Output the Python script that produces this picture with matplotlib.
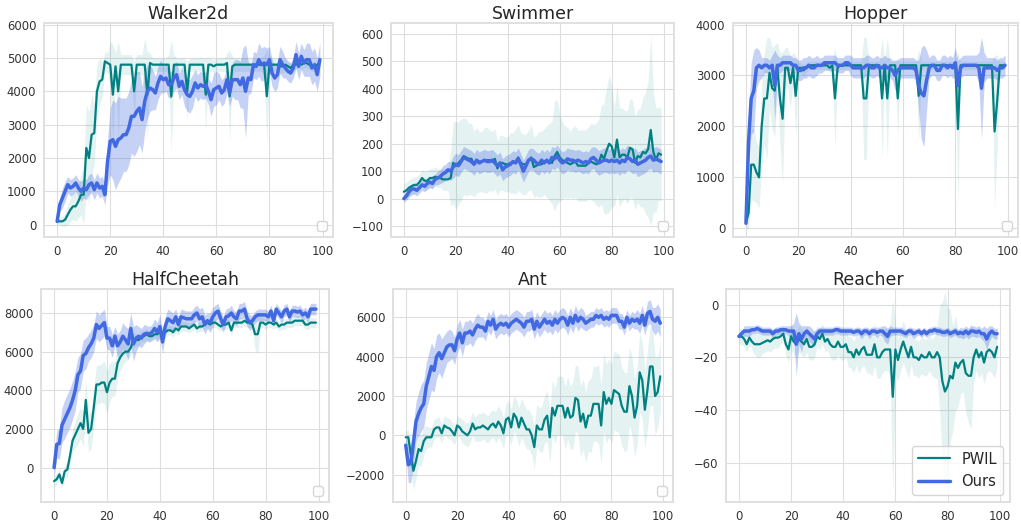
import numpy as np
import matplotlib
matplotlib.use("Agg")
import matplotlib.pyplot as plt
import seaborn as sns

steps = list(range(100))
titles = ["Walker2d", "Swimmer", "Hopper", "HalfCheetah", "Ant", "Reacher"]

# ---- Walker2d ----
walker_pwil = [100, 100, 100, 150, 300, 450, 550, 550, 700, 900,
               900, 2300, 2000, 2700, 2750, 4000, 4300, 4350, 4900, 4850,
               4800, 3900, 4750, 4000, 4800, 4800, 4800, 4800, 4800, 4000,
               4800, 4800, 4800, 4800, 3900, 4850, 4800, 4800, 4800, 4800,
               4800, 4800, 4800, 3850, 4800, 4800, 4800, 4800, 4800, 4000,
               4800, 4800, 4800, 4800, 4800, 4800, 3900, 4800, 4800, 4750,
               4800, 4800, 4800, 4800, 4850, 3850, 4750, 4800, 4800, 4800,
               4800, 4800, 4800, 4800, 4800, 4800, 4800, 4800, 4800, 3850,
               4800, 4800, 4800, 4800, 4750, 4750, 4800, 4750, 4700, 4800,
               4800, 4850, 4800, 4850, 4850, 4800, 4750, 4750, 4800, 4850]
walker_pwil_sd = [100, 100, 150, 200, 300, 350, 400, 450, 500, 600,
                  900, 1300, 1400, 1200, 900, 800, 700, 500, 300, 300,
                  700, 1500, 400, 1500, 300, 300, 300, 300, 300, 900,
                  300, 300, 300, 800, 1300, 300, 200, 200, 200, 200,
                  200, 200, 300, 1700, 300, 200, 200, 200, 200, 900,
                  200, 200, 200, 200, 200, 200, 1100, 200, 200, 200,
                  200, 200, 200, 200, 300, 1400, 300, 200, 200, 200,
                  200, 200, 200, 200, 200, 200, 200, 200, 300, 1400,
                  300, 200, 200, 200, 200, 200, 200, 200, 150, 150,
                  150, 150, 150, 150, 150, 150, 150, 150, 150, 150]
walker_ours = [100, 600, 800, 1000, 1200, 1100, 1150, 1250, 1100, 1000,
               1100, 1050, 1200, 1250, 1050, 1250, 1100, 1150, 900, 1900,
               2500, 2550, 2350, 2550, 2600, 2700, 2700, 2900, 3250, 3250,
               3400, 3500, 3150, 3700, 4000, 4100, 4050, 3950, 4250, 4450,
               4350, 4400, 4200, 4200, 4400, 4500, 4150, 4300, 4050, 3900,
               3850, 4000, 4250, 4100, 4200, 4150, 4200, 4000, 3750, 4050,
               4100, 4150, 3950, 4050, 4350, 3950, 4350, 4350, 4350, 4200,
               4400, 4000, 4400, 4350, 4800, 4750, 4950, 4800, 4850, 4800,
               4950, 4550, 4400, 4500, 4950, 4800, 4700, 4600, 4550, 4700,
               5100, 4750, 5050, 4850, 4950, 4950, 4700, 4800, 4500, 4950]
walker_ours_sd = [100, 200, 300, 300, 250, 250, 250, 250, 250, 300,
                  300, 300, 300, 300, 300, 300, 300, 300, 300, 700,
                  1000, 1200, 1300, 1300, 1200, 1100, 1100, 1100, 1100, 1200,
                  1200, 1100, 1000, 900, 800, 700, 600, 500, 500, 500,
                  400, 400, 400, 400, 400, 400, 400, 400, 500, 500,
                  500, 500, 400, 400, 400, 400, 400, 400, 500, 500,
                  500, 400, 400, 400, 400, 400, 500, 600, 600, 700,
                  900, 1400, 500, 400, 400, 400, 500, 500, 500, 500,
                  400, 400, 400, 400, 400, 400, 300, 300, 300, 300,
                  400, 400, 400, 400, 500, 500, 500, 500, 500, 500]

# ---- Swimmer ----
swimmer_pwil = [25, 30, 40, 45, 50, 50, 60, 75, 65, 65,
                75, 75, 80, 75, 75, 70, 70, 70, 75, 130,
                120, 130, 140, 155, 150, 145, 145, 125, 140, 135,
                135, 140, 140, 140, 135, 145, 110, 130, 130, 125,
                125, 130, 130, 135, 150, 130, 125, 125, 140, 150,
                115, 120, 125, 125, 135, 135, 135, 130, 155, 170,
                150, 140, 135, 130, 125, 130, 135, 120, 120, 120,
                120, 130, 135, 130, 125, 130, 160, 145, 175, 200,
                190, 150, 215, 150, 160, 160, 150, 185, 180, 130,
                155, 150, 170, 165, 180, 250, 170, 140, 165, 160]
swimmer_pwil_sd = [30, 30, 30, 30, 30, 30, 30, 30, 35, 35,
                   35, 35, 35, 35, 35, 40, 40, 40, 100, 150,
                   160, 150, 150, 140, 140, 130, 130, 120, 120, 110,
                   110, 120, 120, 110, 110, 110, 100, 100, 100, 100,
                   100, 110, 110, 120, 120, 110, 110, 110, 110, 120,
                   110, 110, 120, 120, 120, 130, 140, 150, 200, 190,
                   160, 140, 130, 130, 120, 130, 130, 130, 130, 130,
                   130, 130, 140, 140, 150, 160, 180, 200, 230, 250,
                   220, 180, 200, 180, 170, 160, 170, 180, 180, 170,
                   170, 180, 200, 220, 250, 350, 220, 190, 170, 170]
swimmer_ours = [0, 10, 25, 35, 35, 30, 40, 50, 45, 55,
                60, 55, 70, 75, 80, 90, 95, 105, 100, 115,
                125, 120, 135, 150, 145, 140, 135, 125, 140, 130,
                135, 140, 135, 135, 140, 130, 120, 130, 105, 115,
                120, 125, 135, 130, 145, 125, 100, 120, 140, 145,
                140, 130, 125, 140, 130, 140, 130, 150, 145, 155,
                140, 130, 135, 145, 140, 140, 135, 140, 135, 130,
                135, 130, 145, 150, 140, 130, 135, 140, 140, 135,
                140, 135, 140, 130, 140, 135, 150, 145, 135, 140,
                125, 130, 135, 140, 150, 155, 140, 145, 140, 135]
swimmer_ours_sd = [15, 15, 20, 20, 20, 20, 20, 20, 20, 20,
                   20, 20, 20, 25, 25, 30, 30, 30, 35, 40,
                   40, 40, 40, 40, 40, 40, 40, 40, 40, 40,
                   40, 40, 40, 40, 40, 40, 40, 40, 40, 40,
                   40, 40, 40, 40, 40, 40, 40, 40, 40, 40,
                   40, 40, 40, 40, 40, 40, 40, 40, 40, 40,
                   40, 40, 40, 40, 40, 40, 40, 40, 40, 40,
                   40, 40, 40, 40, 45, 45, 45, 45, 45, 45,
                   45, 45, 45, 45, 45, 45, 45, 45, 45, 45,
                   45, 45, 45, 45, 45, 45, 45, 45, 45, 45]

# ---- Hopper ----
hopper_pwil = [100, 300, 1250, 1250, 1100, 1000, 2000, 2550, 2550, 3050,
               2750, 2700, 3150, 2550, 2150, 3150, 3150, 2850, 3150, 2600,
               3150, 3150, 3100, 3150, 3200, 3200, 3200, 3200, 3200, 3200,
               3200, 3200, 3150, 3200, 2550, 3150, 3200, 3200, 3200, 3200,
               3200, 3200, 3200, 3200, 3200, 2550, 2550, 3200, 3200, 3200,
               3200, 3200, 2550, 3200, 2550, 3200, 3200, 3200, 2550, 3200,
               3200, 3200, 3200, 3200, 3200, 3200, 2600, 3200, 3200, 3200,
               3200, 3200, 3200, 3200, 3200, 3200, 3200, 3200, 3200, 3200,
               3200, 1950, 3200, 3200, 3200, 3200, 3200, 3200, 3200, 3200,
               3200, 3200, 3200, 3200, 3200, 1900, 2500, 3200, 3200, 3200]
hopper_pwil_sd = [100, 300, 700, 700, 600, 600, 800, 900, 1200, 700,
                  800, 900, 500, 900, 1300, 400, 400, 500, 300, 800,
                  100, 100, 100, 100, 80, 80, 80, 80, 80, 80,
                  80, 80, 100, 80, 1000, 80, 80, 80, 80, 80,
                  80, 80, 80, 80, 80, 1200, 1200, 80, 80, 80,
                  80, 80, 1200, 80, 1200, 80, 80, 80, 800, 80,
                  80, 80, 80, 80, 80, 80, 900, 80, 80, 80,
                  80, 80, 80, 80, 80, 80, 80, 80, 80, 80,
                  80, 1500, 80, 80, 80, 80, 80, 80, 80, 80,
                  80, 80, 80, 80, 80, 1500, 900, 80, 80, 80]
hopper_ours = [100, 1700, 2550, 2700, 3150, 3200, 3150, 3200, 3200, 3150,
               3200, 2800, 3200, 3200, 3250, 3250, 3250, 3250, 3200, 3200,
               3100, 3100, 3150, 3150, 3200, 3150, 3150, 3200, 3200, 3200,
               3250, 3250, 3250, 3250, 3250, 3200, 3200, 3200, 3250, 3250,
               3200, 3150, 3150, 3150, 3150, 3150, 3200, 3200, 3150, 3150,
               3200, 3150, 3150, 3200, 3150, 3150, 3100, 3000, 3100, 3150,
               3150, 3150, 3150, 3150, 3150, 3100, 2800, 2650, 2600, 2900,
               3150, 3200, 3200, 3100, 3100, 3200, 3200, 3150, 3200, 3150,
               3250, 2800, 3150, 3200, 3200, 3200, 3200, 3200, 3200, 3150,
               2750, 3150, 3150, 3150, 3150, 3150, 3100, 3150, 3150, 3200]
hopper_ours_sd = [50, 500, 700, 800, 400, 300, 200, 150, 150, 150,
                  200, 700, 200, 150, 150, 150, 150, 150, 150, 150,
                  200, 200, 200, 200, 200, 200, 200, 200, 150, 150,
                  150, 150, 150, 150, 150, 150, 150, 150, 150, 150,
                  200, 200, 200, 200, 200, 200, 200, 200, 200, 200,
                  200, 200, 200, 200, 200, 200, 200, 300, 200, 200,
                  200, 200, 200, 200, 200, 200, 500, 900, 1000, 600,
                  200, 200, 200, 200, 200, 200, 200, 200, 200, 200,
                  300, 500, 200, 200, 200, 200, 200, 200, 200, 300,
                  1000, 300, 200, 200, 200, 200, 200, 200, 200, 200]

# ---- HalfCheetah ----
cheetah_pwil = [-700, -600, -350, -800, -200, -100, 600, 1400, 1700, 2000,
                2300, 2000, 3500, 1800, 2000, 3100, 4300, 4300, 4400, 4400,
                3900, 4400, 4600, 4600, 5400, 5700, 5900, 6000, 6000, 6200,
                6600, 6600, 6600, 6800, 6800, 6900, 6800, 6800, 6900, 6900,
                7000, 6900, 7000, 7100, 7100, 7000, 7200, 7100, 7300, 7300,
                7300, 7200, 7300, 7400, 7200, 7300, 7300, 7400, 7500, 7400,
                7500, 7500, 7400, 7300, 7400, 7400, 7500, 7100, 7500, 7500,
                7500, 7500, 7600, 7500, 7500, 7400, 6900, 6900, 7500, 7500,
                7400, 7500, 7500, 7400, 7500, 7300, 7400, 7400, 7500, 7500,
                7500, 7600, 7600, 7600, 7600, 7400, 7400, 7500, 7500, 7500]
cheetah_pwil_sd = [300, 300, 300, 300, 300, 400, 500, 600, 700, 800,
                   800, 900, 1000, 1000, 1000, 1000, 1000, 1000, 1000, 1100,
                   1100, 1000, 900, 900, 800, 700, 600, 500, 400, 400,
                   400, 300, 300, 300, 300, 300, 300, 300, 300, 300,
                   300, 300, 300, 250, 250, 250, 250, 250, 250, 250,
                   250, 250, 250, 250, 250, 250, 250, 250, 250, 250,
                   250, 250, 250, 250, 250, 250, 250, 300, 250, 250,
                   250, 250, 250, 250, 250, 300, 800, 1000, 300, 250,
                   250, 250, 250, 250, 250, 250, 250, 250, 250, 250,
                   250, 250, 250, 250, 250, 250, 250, 250, 250, 250]
cheetah_ours = [0, 1200, 1250, 2200, 2500, 2800, 3100, 3500, 4000, 4800,
                5000, 5800, 5900, 6200, 6400, 6700, 7400, 7200, 7350, 7500,
                6700, 6700, 6300, 6800, 6300, 6500, 6800, 6600, 6400, 7200,
                6400, 6700, 6800, 6700, 6900, 6950, 6900, 7000, 7200, 7000,
                7300, 6500, 7300, 7700, 7600, 7500, 7800, 7400, 7800, 7750,
                7700, 7700, 7700, 7900, 8000, 7700, 7800, 7400, 7600, 7500,
                7800, 8000, 8100, 7700, 7400, 7800, 7850, 8000, 7800, 7700,
                8100, 8100, 8200, 7700, 7500, 7600, 7800, 7900, 7900, 7900,
                7900, 7800, 8100, 7600, 8200, 8000, 7800, 8100, 8200, 7800,
                8100, 8100, 8050, 8100, 7900, 8000, 7800, 8200, 8200, 8200]
cheetah_ours_sd = [500, 700, 800, 900, 1000, 1000, 1000, 1000, 1000, 900,
                   900, 800, 800, 700, 700, 700, 700, 700, 700, 700,
                   600, 600, 600, 500, 600, 600, 700, 700, 800, 800,
                   900, 700, 500, 500, 500, 400, 400, 400, 500, 500,
                   600, 600, 500, 500, 500, 500, 400, 400, 400, 400,
                   400, 400, 400, 400, 400, 500, 500, 500, 400, 500,
                   500, 400, 400, 400, 400, 400, 400, 400, 300, 400,
                   400, 400, 400, 400, 400, 300, 300, 300, 300, 300,
                   300, 300, 300, 300, 300, 300, 300, 300, 300, 300,
                   300, 300, 300, 300, 300, 300, 300, 300, 300, 300]

# ---- Ant ----
ant_pwil = [-100, -100, -1000, -1800, -1300, -700, -800, -300, -100, -100,
            -100, 300, 400, 400, 100, 500, 400, 350, 200, 0,
            500, 400, 200, 100, 0, 200, 600, 300, 400, 400,
            500, 400, 300, 500, 600, 400, 700, 500, 100, 800,
            900, 400, 1100, 900, 400, 900, 600, 300, 300, 0,
            -600, 500, 300, 300, 800, 1000, -100, 1400, 1000, 1500,
            1500, 1500, 900, 1400, 900, 1000, 1900, 1800, 700, 1100,
            400, 1000, 1000, 1600, 1600, 1600, 500, 2200, 1600, 1900,
            1600, 2300, 2200, 2100, 1500, 1200, 1200, 2500, 2000, 900,
            1500, 3200, 2800, 1300, 2300, 3500, 3500, 2000, 2200, 3000]
ant_pwil_sd = [300, 400, 800, 1000, 900, 800, 800, 700, 600, 500,
               500, 500, 500, 500, 500, 500, 500, 500, 500, 500,
               500, 500, 600, 600, 600, 600, 600, 600, 700, 700,
               700, 700, 700, 700, 700, 800, 800, 800, 800, 800,
               900, 900, 900, 900, 1000, 1000, 1000, 1000, 1000, 1000,
               1100, 1100, 1100, 1200, 1200, 1300, 1300, 1400, 1400, 1500,
               1500, 1500, 1600, 1600, 1600, 1700, 1700, 1700, 1800, 1800,
               1800, 1800, 1900, 1900, 1900, 2000, 2000, 2000, 2000, 2000,
               2000, 2000, 2000, 2000, 2000, 2000, 2000, 2000, 2000, 2000,
               2000, 2000, 2000, 2000, 2000, 2000, 2000, 2000, 1800, 1800]
ant_ours = [-500, -1500, -1400, -400, 700, 1100, 1400, 1600, 2500, 3000,
            3500, 3300, 4000, 4200, 3900, 4200, 4500, 4600, 4600, 4300,
            4900, 5200, 4700, 5200, 5200, 5300, 5100, 5400, 5600, 5500,
            5500, 5300, 5800, 5600, 5900, 5400, 5600, 5700, 5600, 5700,
            5500, 5700, 5800, 5900, 5800, 5700, 5500, 5800, 5800, 5900,
            5400, 5800, 5500, 5700, 5900, 5700, 5800, 5600, 5900, 5700,
            5900, 6000, 5900, 5600, 6000, 5700, 6100, 5800, 6000, 5900,
            5700, 5800, 5900, 5900, 6100, 6000, 6100, 5900, 6000, 5900,
            6100, 6100, 6100, 5800, 5800, 5500, 6000, 5700, 5900, 5800,
            5900, 5700, 6100, 5600, 6200, 6300, 5900, 5800, 6000, 5700]
ant_ours_sd = [400, 900, 1000, 1000, 1000, 1100, 1200, 1200, 1200, 1200,
               1200, 1100, 1100, 1000, 1000, 900, 800, 800, 700, 700,
               700, 700, 700, 600, 600, 600, 600, 600, 600, 500,
               500, 500, 500, 500, 500, 500, 500, 500, 500, 500,
               500, 500, 500, 500, 500, 500, 500, 500, 500, 500,
               500, 500, 500, 500, 500, 500, 500, 500, 500, 500,
               500, 500, 500, 500, 500, 500, 500, 500, 500, 500,
               400, 400, 400, 400, 400, 400, 400, 400, 400, 400,
               400, 400, 400, 400, 400, 400, 400, 400, 400, 400,
               500, 500, 500, 500, 600, 600, 600, 700, 700, 700]

# ---- Reacher ----
reacher_pwil = [-12, -12, -13, -15, -12.5, -14, -15, -15, -15, -14.5,
                -14, -13.5, -14, -13, -12.5, -12.5, -12, -11, -15, -17,
                -12, -14, -15, -13, -14, -15, -13, -16, -16, -15,
                -12, -13, -11, -14, -13, -15, -16, -16, -14, -16,
                -16, -15, -18, -18, -20, -17, -19, -17, -16, -19,
                -19, -19, -15, -20, -20, -18, -17, -17, -17, -35,
                -17, -21, -17, -14, -17, -20, -16, -20, -20, -21,
                -19, -20, -20, -18, -20, -20, -18, -20, -29, -33,
                -31, -27, -28, -22, -24, -22, -21, -26, -27, -27,
                -20, -17, -20, -18, -22, -18, -17, -18, -20, -16]
reacher_pwil_sd = [3, 3, 3, 3, 3, 3, 4, 5, 5, 4,
                   4, 4, 4, 4, 4, 4, 3, 3, 4, 5,
                   5, 5, 5, 5, 5, 5, 5, 5, 5, 5,
                   4, 4, 4, 4, 4, 5, 5, 5, 5, 5,
                   5, 5, 6, 6, 6, 6, 7, 7, 7, 7,
                   7, 8, 8, 8, 8, 8, 8, 8, 10, 37,
                   10, 8, 8, 8, 8, 8, 7, 7, 7, 7,
                   7, 7, 7, 7, 7, 8, 10, 20, 30, 38,
                   30, 25, 20, 18, 15, 12, 12, 15, 18, 20,
                   10, 8, 8, 8, 8, 8, 8, 8, 8, 8]
reacher_ours = [-12, -11, -10, -10, -10, -9.5, -9.5, -9, -9.5, -10,
                -10, -10, -10, -11, -10, -10, -9.5, -9.5, -9.5, -10,
                -10, -10, -15, -11, -13, -11, -10, -11, -12, -13,
                -11, -10, -10, -10, -10, -10, -10, -9.5, -9.5, -10,
                -10, -10, -10, -10, -10.5, -10, -10, -11, -10, -10,
                -11, -10, -10, -10.5, -10, -10, -11, -12, -10, -10,
                -10, -10, -10, -10.5, -11, -10, -10, -11, -10.5, -10,
                -11, -10, -11, -10, -10, -9.5, -10, -10, -10.5, -10.5,
                -10, -11, -10.5, -10, -11, -10.5, -11, -10, -11, -10,
                -10, -10.5, -10, -11, -11, -13, -11, -10, -11, -11]
reacher_ours_sd = [1, 1, 2, 2, 2, 1.5, 1.5, 1.5, 1.5, 1.5,
                   1.5, 1.5, 1.5, 1.5, 1.5, 1.5, 1.5, 1.5, 1.5, 2,
                   2, 3, 12, 4, 5, 3, 2, 3, 3, 3,
                   2, 1.5, 1.5, 1.5, 1.5, 1.5, 1.5, 1.5, 1.5, 1.5,
                   1.5, 1.5, 1.5, 1.5, 1.5, 1.5, 1.5, 2, 1.5, 1.5,
                   2, 1.5, 1.5, 2, 1.5, 2, 3, 3, 2, 1.5,
                   1.5, 1.5, 1.5, 1.5, 1.5, 1.5, 1.5, 2, 1.5, 1.5,
                   1.5, 1.5, 1.5, 1.5, 1.5, 1.5, 1.5, 1.5, 1.5, 1.5,
                   1.5, 1.5, 1.5, 1.5, 1.5, 2, 2, 2, 2, 2,
                   2, 2, 2, 2, 3, 4, 3, 2, 2, 2]

pwil_runs = [(walker_pwil, walker_pwil_sd), (swimmer_pwil, swimmer_pwil_sd),
             (hopper_pwil, hopper_pwil_sd), (cheetah_pwil, cheetah_pwil_sd),
             (ant_pwil, ant_pwil_sd), (reacher_pwil, reacher_pwil_sd)]
ours_runs = [(walker_ours, walker_ours_sd), (swimmer_ours, swimmer_ours_sd),
             (hopper_ours, hopper_ours_sd), (cheetah_ours, cheetah_ours_sd),
             (ant_ours, ant_ours_sd), (reacher_ours, reacher_ours_sd)]

y_limits = [(-370, 6050), (-140, 640), (-170, 4030), (-1780, 9240), (-3390, 7440), (-75, 6)]
y_ticks = [range(0, 6001, 1000), range(-100, 601, 100), range(0, 4001, 1000),
           range(0, 8001, 2000), range(-2000, 6001, 2000), range(-60, 1, 20)]

# axes boxes in pixels: left, right, top, bottom
boxes = [(44, 333, 23, 237), (391, 674, 23, 237), (733, 1018, 23, 237),
         (41, 329, 289, 502), (393, 673, 289, 502), (726, 1010, 289, 502)]

sns.set_style("whitegrid")
plt.rcParams['font.family'] = ['DejaVu Sans']

W, H = 1021, 525
fig = plt.figure(figsize=(W / 100, H / 100), dpi=100)

for i in range(6):
    l, r, t, b = boxes[i]
    ax = fig.add_axes([l / W, 1 - b / H, (r - l) / W, (b - t) / H])
    x = np.array(steps)
    pm, ps = np.array(pwil_runs[i][0]), np.array(pwil_runs[i][1])
    om, osd = np.array(ours_runs[i][0]), np.array(ours_runs[i][1])
    ax.fill_between(x, pm - ps, pm + ps, color='teal', alpha=0.1, linewidth=0)
    ax.plot(x, pm, color='teal', linewidth=1.6, label='PWIL')
    ax.fill_between(x, om - osd, om + osd, color='royalblue', alpha=0.3, linewidth=0)
    ax.plot(x, om, color='royalblue', linewidth=2.5, label='Ours')
    ax.set_ylim(*y_limits[i])
    ax.set_yticks(list(y_ticks[i]))
    ax.set_xticks([0, 20, 40, 60, 80, 100])
    ax.tick_params(labelsize=8.4, colors='.2', pad=2)
    ax.set_title(titles[i], fontsize=12.5, color='.15', pad=3)
    for s in ax.spines.values():
        s.set_color('.88')
        s.set_linewidth(1.4)
    ax.grid(color='.87', linewidth=0.8)
    if titles[i] == "Reacher":
        leg = ax.legend(loc='lower right', fontsize=10.5, handlelength=2.2)
        for t_ in leg.get_texts():
            t_.set_color('.15')
    else:
        # the original panels carry an empty legend box
        ax.legend(handles=[], loc='lower right', fontsize=9)

fig.savefig("out.png", dpi=100)
